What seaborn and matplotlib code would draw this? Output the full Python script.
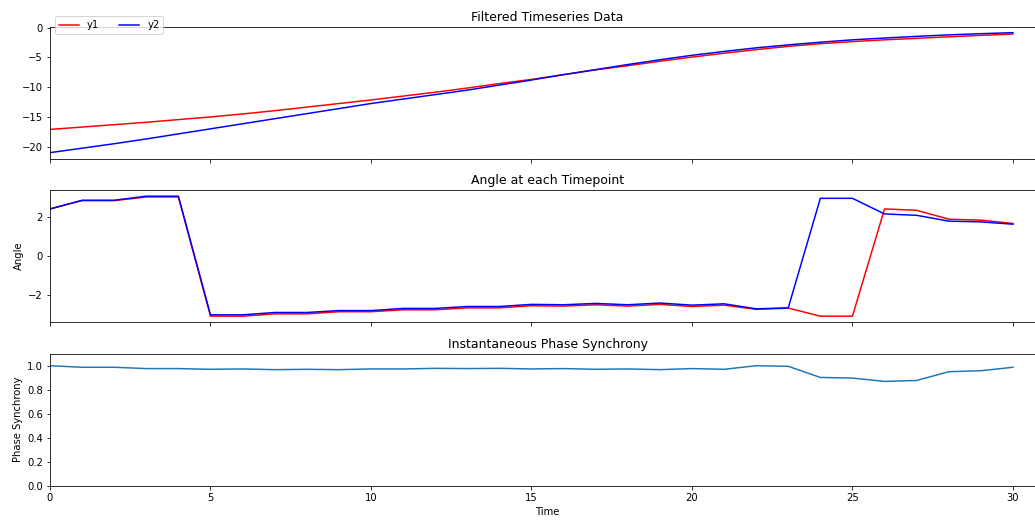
import numpy as np
import matplotlib
matplotlib.use("Agg")
import matplotlib.pyplot as plt
import seaborn as sns

time = list(range(31))

y1_filtered = [-17.1, -16.7, -16.3, -15.9, -15.45, -15.0, -14.5, -13.95, -13.35, -12.75,
               -12.15, -11.5, -10.85, -10.15, -9.4, -8.7, -7.9, -7.1, -6.4, -5.65,
               -4.95, -4.3, -3.7, -3.15, -2.7, -2.35, -2.05, -1.8, -1.55, -1.3, -1.08]
y2_filtered = [-21.0, -20.25, -19.5, -18.7, -17.85, -17.0, -16.15, -15.3, -14.45, -13.6,
               -12.75, -12.0, -11.25, -10.5, -9.65, -8.8, -7.9, -7.05, -6.2, -5.4,
               -4.65, -4.0, -3.4, -2.9, -2.45, -2.05, -1.75, -1.47, -1.22, -1.02, -0.85]

angle1 = [2.44, 2.87, 2.87, 3.06, 3.06, -3.11, -3.11, -2.99, -2.99, -2.88,
          -2.88, -2.78, -2.78, -2.68, -2.68, -2.57, -2.59, -2.52, -2.59, -2.50,
          -2.61, -2.54, -2.76, -2.69, -3.11, -3.11, 2.44, 2.37, 1.91, 1.86, 1.69]
angle2 = [2.44, 2.89, 2.89, 3.10, 3.10, -3.04, -3.04, -2.92, -2.92, -2.82,
          -2.82, -2.71, -2.71, -2.61, -2.61, -2.50, -2.52, -2.45, -2.52, -2.43,
          -2.54, -2.47, -2.73, -2.68, 2.99, 2.99, 2.18, 2.11, 1.81, 1.77, 1.65]

phase_sync = [1.0, 0.987, 0.987, 0.976, 0.976, 0.97, 0.973, 0.967, 0.97, 0.967,
              0.973, 0.973, 0.978, 0.976, 0.978, 0.973, 0.976, 0.97, 0.973, 0.967,
              0.976, 0.97, 1.0, 0.995, 0.902, 0.897, 0.869, 0.877, 0.95, 0.958, 0.987]

fig, axes = plt.subplots(3, 1, sharex=True, figsize=(1035 / 72, 520 / 72), dpi=72)
fig.subplots_adjust(left=0.0483, right=1.0097, top=0.9487, bottom=0.066, hspace=0.239)

ax1, ax2, ax3 = axes

sns.lineplot(x=time, y=y1_filtered, ax=ax1, color="red", label="y1", linewidth=1.5)
sns.lineplot(x=time, y=y2_filtered, ax=ax1, color="blue", label="y2", linewidth=1.5)
ax1.set_title("Filtered Timeseries Data", fontsize=12.5)
ax1.legend(loc="upper left", bbox_to_anchor=(0, 1.115), ncol=2, fontsize=10)

sns.lineplot(x=time, y=angle1, ax=ax2, color="red", linewidth=1.5, legend=False)
sns.lineplot(x=time, y=angle2, ax=ax2, color="blue", linewidth=1.5, legend=False)
ax2.set_title("Angle at each Timepoint", fontsize=12.5)
ax2.set_ylabel("Angle")

sns.lineplot(x=time, y=phase_sync, ax=ax3, color="#1f77b4", linewidth=1.5, legend=False)
ax3.set_title("Instantaneous Phase Synchrony", fontsize=12.5)
ax3.set_ylabel("Phase Synchrony")
ax3.set_xlabel("Time")
ax3.set_ylim(0, 1.1)
ax3.set_yticks([0.0, 0.2, 0.4, 0.6, 0.8, 1.0])

ax3.set_xlim(0, 31)
ax3.set_xticks([0, 5, 10, 15, 20, 25, 30])

fig.savefig("out.png", dpi=72)
